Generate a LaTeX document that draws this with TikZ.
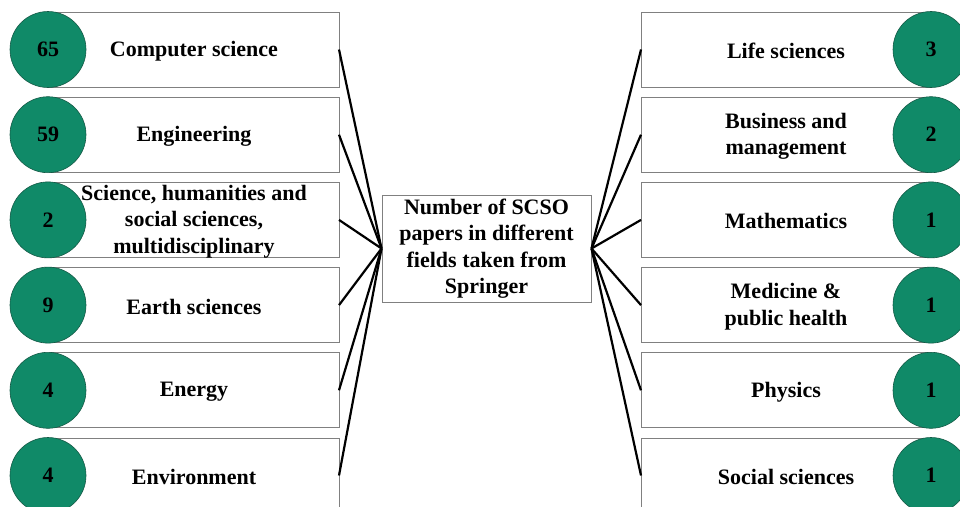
\documentclass[tikz,border=0pt]{standalone}
\usepackage{fontspec}
\setmainfont{LiberationSerif}[Extension=.ttf,UprightFont=*-Regular,BoldFont=*-Bold]
\definecolor{disc}{RGB}{16,138,104}
\definecolor{discedge}{RGB}{20,90,70}
\definecolor{frame}{RGB}{128,128,128}
\begin{document}
\begin{tikzpicture}[x=1pt,y=-1pt,
  fieldbox/.style={draw=frame,line width=1pt,fill=white,minimum width=290pt,
    minimum height=75pt,inner sep=0pt,outer sep=0pt},
  fieldtext/.style={align=center,inner sep=0pt,
    font=\fontsize{22}{26.5}\selectfont\bfseries},
  countdisc/.style={circle,draw=discedge,line width=0.6pt,fill=disc,
    minimum size=76pt,inner sep=0pt,font=\fontsize{22}{26.5}\selectfont\bfseries},
  hubbox/.style={draw=frame,line width=1pt,fill=white,minimum width=209pt,
    minimum height=107pt,inner sep=0pt,align=center,
    font=\fontsize{22}{26.5}\selectfont\bfseries},
  spoke/.style={line width=2.2pt,black}]
\useasboundingbox (0,0) rectangle (960,506);
\clip (0,0) rectangle (960,506);
\fill[white] (0,0) rectangle (960,506);

% central hub
\node[hubbox] (hub) at (486.5,248.5) {Number of SCSO\\papers in different\\fields taken from\\Springer};

% left column: boxes, count discs, labels
\foreach \i/\n/\t in {0/65/Computer science,
                      1/59/Engineering,
                      2/2/{Science, humanities and\\social sciences,\\multidisciplinary},
                      3/9/Earth sciences,
                      4/4/Energy,
                      5/4/Environment}{
  \pgfmathsetmacro\yc{49.5+85.2*\i}
  \node[fieldbox] (L\i) at (194,\yc) {};
  \node[countdisc] (LC\i) at (48,\yc) {\n};
  \node[fieldtext] (LT\i) at (194,\yc+1.5) {\t};
  \draw[spoke] (L\i.east) -- (hub.west);
}

% right column: boxes, count discs, labels
\foreach \i/\n/\t in {0/3/Life sciences,
                      1/2/{Business and\\management},
                      2/1/Mathematics,
                      3/1/{Medicine \&\\public health},
                      4/1/Physics,
                      5/1/Social sciences}{
  \pgfmathsetmacro\yc{49.5+85.2*\i}
  \node[fieldbox] (R\i) at (786,\yc) {};
  \node[countdisc] (RC\i) at (931,\yc) {\n};
  \node[fieldtext] (RT\i) at (786,\yc+1.5) {\t};
  \draw[spoke] (R\i.west) -- (hub.east);
}
\end{tikzpicture}
\end{document}
